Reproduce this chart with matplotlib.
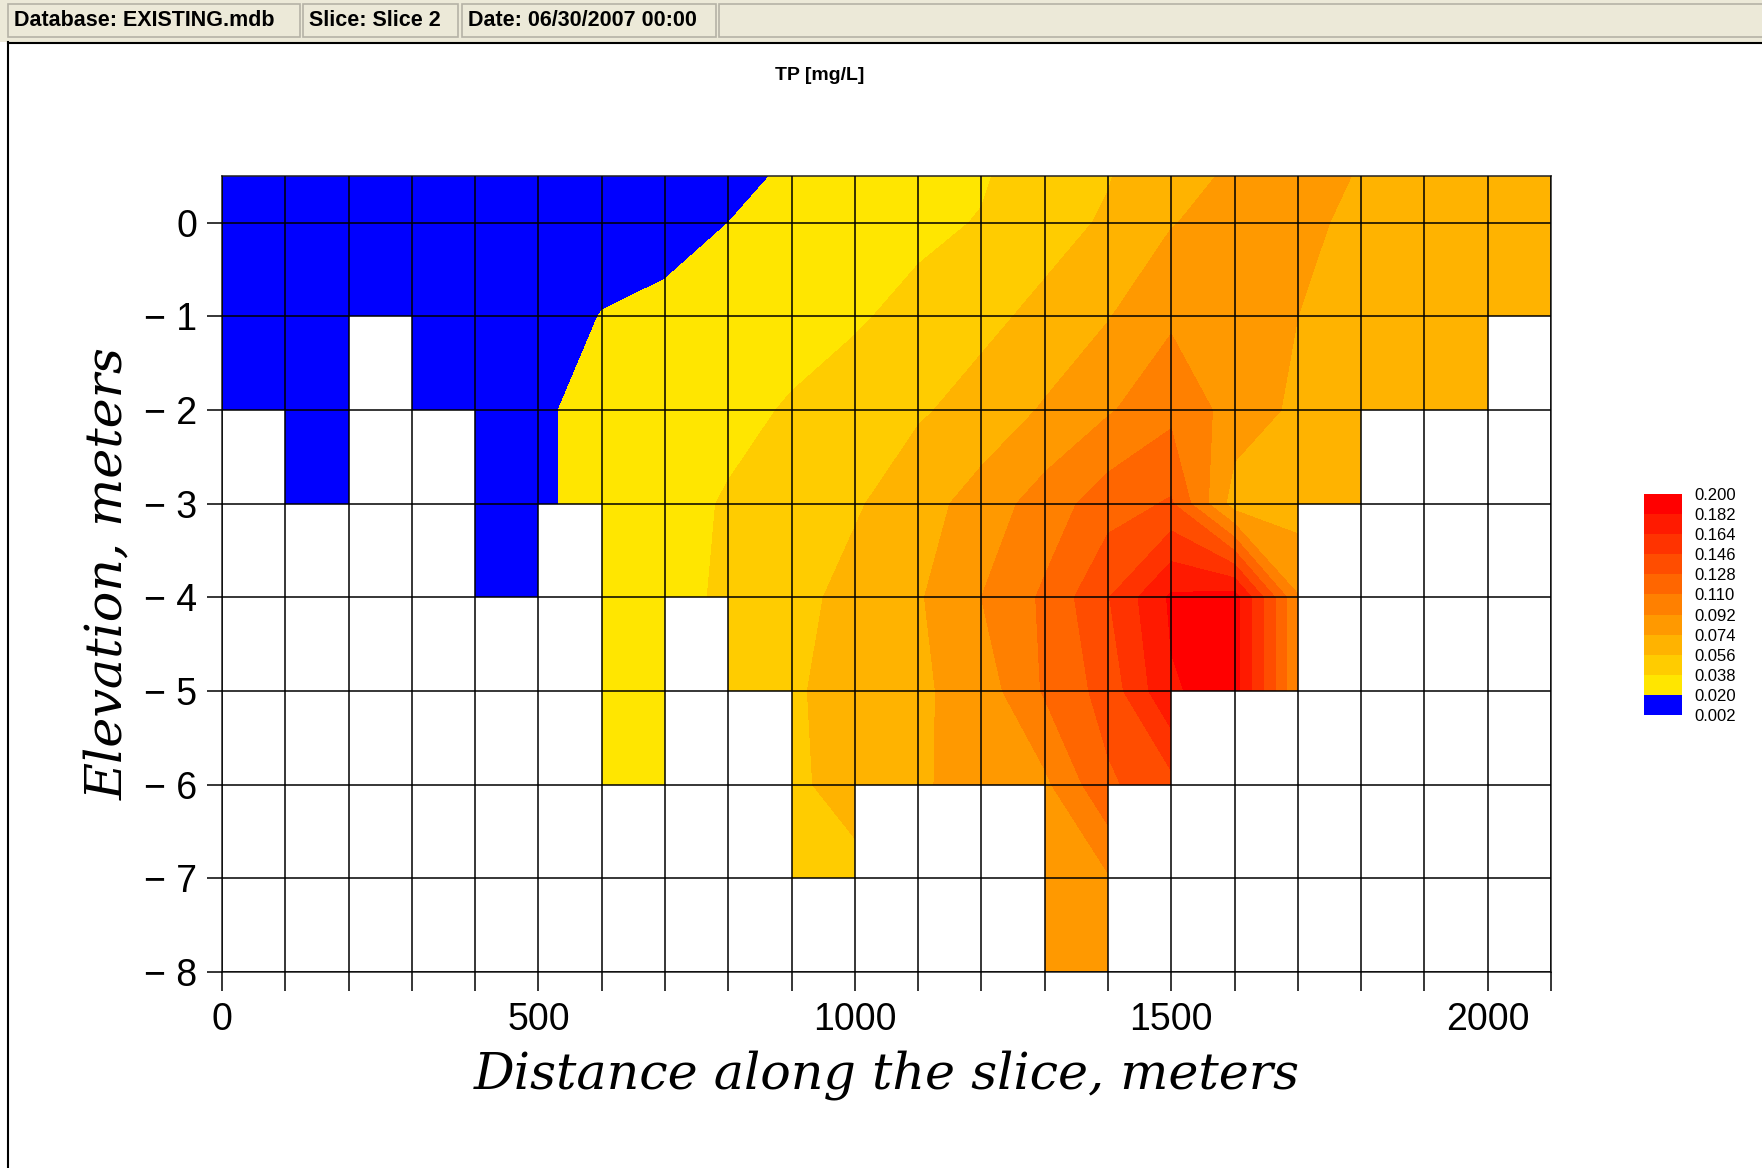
import numpy as np
import matplotlib
matplotlib.use("Agg")
import matplotlib.pyplot as plt
from matplotlib.colors import ListedColormap
from matplotlib.patches import Rectangle
from matplotlib.lines import Line2D

W, H = 1762, 1168

# grid nodes along the slice (m) and elevations (m)
dist = np.arange(0, 2200, 100)
elev = np.array([0.5, 0, -1, -2, -3, -4, -5, -6, -7, -8])

# TP [mg/L] at the grid nodes, one list per elevation, left to right
tp_p05 = [0.005] * 9 + [0.028, 0.030, 0.033, 0.036, 0.048, 0.055, 0.068, 0.0765, 0.085, 0.072, 0.066, 0.066, 0.066]
tp_0 = [0.005] * 8 + [0.020, 0.028, 0.031, 0.034, 0.039, 0.050, 0.058, 0.073, 0.082, 0.080, 0.068, 0.066, 0.065, 0.065]
tp_m1 = [0.005] * 6 + [0.021, 0.030, 0.032, 0.034, 0.036, 0.043, 0.052, 0.060, 0.073, 0.089, 0.086, 0.074, 0.066, 0.066, 0.065, 0.065]
tp_m2 = [0.005] * 5 + [0.015, 0.031, 0.033, 0.035, 0.039, 0.046, 0.054, 0.062, 0.076, 0.090, 0.105, 0.085, 0.070, 0.066, 0.066, 0.066, 0.066]
tp_m3 = [0.005] * 5 + [0.015, 0.031, 0.034, 0.039, 0.046, 0.054, 0.066, 0.082, 0.100, 0.120, 0.130, 0.065, 0.065, 0.065, 0.065, 0.065, 0.065]
tp_m4 = [0.005] * 5 + [0.015, 0.030, 0.034, 0.040, 0.050, 0.062, 0.072, 0.092, 0.113, 0.145, 0.185, 0.190, 0.093, 0.065, 0.065, 0.065, 0.065]
tp_m5 = [0.005] * 6 + [0.030, 0.032, 0.045, 0.054, 0.062, 0.071, 0.082, 0.112, 0.135, 0.180, 0.190, 0.093, 0.065, 0.065, 0.065, 0.065]
tp_m6 = [0.005] * 6 + [0.030, 0.032, 0.045, 0.052, 0.064, 0.072, 0.080, 0.088, 0.125, 0.140, 0.090, 0.065, 0.065, 0.065, 0.065, 0.065]
tp_m7 = [0.045] * 10 + [0.050, 0.060, 0.060, 0.085, 0.090] + [0.065] * 7
tp_m8 = [0.045] * 13 + [0.085, 0.085] + [0.065] * 7

# active model cells per layer (1 = active), left to right
active_rows = [
    "111111111111111111111",
    "111111111111111111111",
    "110111111111111111110",
    "010011111111111111000",
    "000010111111111110000",
    "000000101111111110000",
    "000000100111111000000",
    "000000000100010000000",
    "000000000000010000000",
]

levels = [0.002, 0.020, 0.038, 0.056, 0.074, 0.092, 0.110, 0.128, 0.146, 0.164, 0.182, 0.200]
band_colors = ["#0000FF", "#FFE600", "#FFCC00", "#FFB300", "#FF9900", "#FF8000",
               "#FF6600", "#FF4D00", "#FF3300", "#FF1A00", "#FF0000"]

tp = np.array([tp_p05, tp_0, tp_m1, tp_m2, tp_m3, tp_m4, tp_m5, tp_m6, tp_m7, tp_m8])
active = np.array([[int(c) for c in r] for r in active_rows])

fig = plt.figure(figsize=(W / 100, H / 100), dpi=100)
fig.patch.set_facecolor("white")

# toolbar strip
bar = fig.add_axes([0, 1 - 42 / H, 1, 42 / H])
bar.set_xlim(0, W)
bar.set_ylim(42, 0)
bar.axis("off")
bar.add_patch(Rectangle((0, 0), W, 42, color="#ECE9D8"))
boxes = [(8, 300, "Database: EXISTING.mdb"), (303, 458, "Slice: Slice 2"),
         (462, 716, "Date: 06/30/2007 00:00"), (719, W + 5, "")]
for x0, x1, lab in boxes:
    bar.add_patch(Rectangle((x0, 4), x1 - x0, 33, fc="#ECE9D8", ec="#B5B2A6", lw=1.2))
    bar.text(x0 + 6, 21, lab, ha="left", va="center", fontsize=15.5,
             fontweight="bold", family=["Liberation Sans Narrow", "Liberation Sans"])

fig.add_artist(Line2D([8 / W, 8 / W], [0, 1 - 42 / H], color="black", lw=1.5))
fig.add_artist(Line2D([8 / W, 1], [1 - 43 / H, 1 - 43 / H], color="black", lw=1.5))

ax = fig.add_axes([222 / W, 1 - 972 / H, (1551 - 222) / W, (972 - 176) / H])
cs = ax.contourf(dist, elev, tp, levels=levels, colors=band_colors)
ax.pcolormesh(dist, elev, np.ma.masked_where(active == 1, np.zeros(active.shape)),
              cmap=ListedColormap(["white"]), shading="flat")
ax.set_xlim(0, 2100)
ax.set_ylim(-8, 0.5)

xt = np.arange(0, 2101, 100)
ax.set_xticks(xt)
ax.set_xticklabels([str(v) if v % 500 == 0 else "" for v in xt])
yt = np.arange(0, -9, -1)
ax.set_yticks(yt)
ax.set_yticklabels(["0" if v == 0 else "\u2212 " + str(-v) for v in yt])
ax.grid(True, color="black", linewidth=1.1)
ax.set_axisbelow(False)
for s in ax.spines.values():
    s.set_linewidth(1.1)
    s.set_color("#222222")
ax.tick_params(axis="x", length=13.5, width=1.1, pad=8)
ax.tick_params(axis="y", length=11, width=1.1, pad=7)
for lab in ax.get_xticklabels() + ax.get_yticklabels():
    lab.set_family(["Liberation Sans"])
    lab.set_fontsize(27)

fig.text(887 / W, 1 - 1075 / H, "Distance along the slice, meters", ha="center", va="center",
         family=["DejaVu Serif"], style="italic", fontsize=36.5)
fig.text(109 / W, 1 - 574 / H, "Elevation, meters", ha="center", va="center", rotation=90,
         family=["DejaVu Serif"], style="italic", fontsize=36.5)
fig.text(820 / W, 1 - 75 / H, "TP [mg/L]", ha="center", va="center", fontsize=14,
         fontweight="bold", family=["Liberation Sans Narrow", "Liberation Sans"])

cax = fig.add_axes([1644 / W, 1 - 715 / H, 38 / W, 221 / H])
cb = fig.colorbar(cs, cax=cax, ticks=levels)
cb.outline.set_visible(False)
cb.ax.set_yticklabels(["%.3f" % v for v in levels])
cb.ax.tick_params(length=0, pad=9, labelsize=12)
for lab in cb.ax.get_yticklabels():
    lab.set_family(["Liberation Sans"])

fig.savefig("out.png", dpi=100)
